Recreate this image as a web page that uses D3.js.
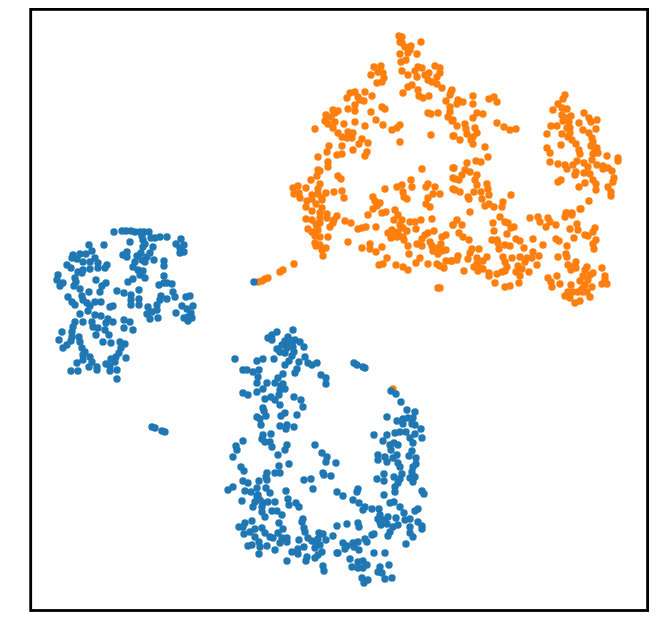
<!DOCTYPE html>
<html><head><meta charset="utf-8">
<script src="https://cdn.jsdelivr.net/npm/d3@7"></script>
<style>html,body{margin:0;padding:0;background:#fff}svg{display:block}</style>
</head><body><div id="chart"></div>
<script>
const blueUpperLeft=[[114,232],[122,231],[126,231],[131,231],[135,232],[140,232],[144,232],[149,232],[142,236],[143,240],[145,244],[143,247],[130,242],[104,245],[89,245],[153,247],[151,238],[155,238],[160,237],[167,237],[181,239],[184,245],[176,244],[180,248],[184,252],[180,253],[127,252],[123,255],[127,257],[137,256],[141,253],[150,253],[147,257],[142,260],[145,262],[135,262],[133,267],[154,260],[164,261],[164,266],[92,251],[86,254],[80,254],[73,255],[72,258],[77,259],[83,262],[90,262],[95,258],[98,263],[67,265],[71,268],[107,265],[105,268],[98,268],[90,269],[83,270],[78,272],[82,273],[75,278],[76,282],[58,275],[57,280],[63,283],[60,286],[138,270],[143,271],[140,275],[145,278],[164,276],[133,279],[128,282],[96,280],[106,283],[102,286],[100,292],[89,292],[74,286],[80,289],[117,291],[124,293],[131,295],[139,290],[164,283],[159,285],[167,283],[172,284],[173,292],[175,297],[161,296],[167,299],[160,300],[157,305],[186,297],[190,296],[68,297],[72,302],[75,305],[82,296],[83,300],[87,303],[90,306],[95,302],[101,302],[110,307],[113,306],[131,300],[131,305],[139,299],[139,305],[148,307],[152,312],[157,310],[147,314],[150,319],[158,318],[176,313],[182,306],[187,309],[193,306],[191,313],[188,317],[184,318],[188,321],[192,318],[88,311],[80,314],[95,315],[101,316],[75,322],[83,322],[73,327],[72,332],[92,322],[93,327],[98,328],[108,319],[106,323],[113,322],[105,330],[109,335],[96,335],[124,320],[130,322],[124,328],[133,330],[62,332],[72,337],[59,340],[79,337],[80,342],[71,341],[67,345],[63,348],[82,348],[85,352],[83,355],[103,342],[111,343],[120,342],[125,344],[121,348],[119,353],[116,357],[126,358],[111,359],[106,364],[110,366],[115,362],[90,357],[92,362],[83,360],[77,363],[89,367],[97,367],[97,370],[71,371],[78,371],[110,371],[117,370],[117,379]];
const blueStray=[[152,427],[155,428],[162,431],[165,432],[254,282],[354,363],[357,365],[363,367],[365,368]];
const blueLowerTop=[[293,330],[277,332],[272,335],[268,338],[272,340],[288,337],[285,341],[295,340],[300,342],[304,347],[288,345],[292,343],[287,348],[277,349],[280,352],[285,353],[294,352],[292,356],[305,357],[274,359],[235,359],[257,361],[263,359],[289,361],[285,365],[299,362],[308,363],[317,363],[312,365],[297,369],[295,373],[243,370],[247,370],[253,372],[259,370],[258,377],[257,383],[283,374],[278,378],[267,383],[275,383],[283,384],[285,389],[280,390],[321,375],[326,378],[326,384],[263,389],[257,392],[243,393],[248,395],[265,399],[271,397],[275,400],[279,395],[294,397],[301,400],[303,407],[280,405],[263,408],[264,411],[266,416],[257,417],[260,419],[261,425],[285,413],[281,416],[297,415],[280,426],[287,425],[286,429],[294,427],[263,435],[262,439],[265,442],[271,434],[270,442],[272,447],[243,441],[236,446],[237,450],[233,457],[287,445],[285,450],[278,455],[315,445],[322,453],[327,457],[290,340],[293,347],[282,345],[281,386]];
const blueLowerLeft=[[241,467],[244,471],[289,464],[279,466],[267,473],[275,473],[280,473],[266,477],[267,480],[259,481],[243,481],[248,483],[233,487],[228,490],[245,491],[251,492],[257,488],[266,488],[270,493],[286,491],[304,480],[311,479],[313,489],[337,492],[323,473],[324,475],[331,476],[326,462],[336,463],[257,496],[255,502],[242,501],[253,507],[263,503],[268,502],[275,502],[262,507],[262,512],[272,511],[277,511],[282,515],[265,517],[288,499],[289,505],[296,503],[299,507],[303,519],[302,522],[304,528],[305,532],[279,523],[283,529],[252,521],[245,523],[239,527],[243,527],[244,534],[250,532],[255,529],[262,528],[265,533],[270,537],[273,538],[255,537],[278,533],[282,538],[287,538],[280,543],[287,542],[259,542],[252,545],[248,546],[260,547],[267,546],[275,550],[259,554],[299,540],[308,538],[312,541],[319,533],[323,534],[337,526],[333,536],[326,540],[318,539],[320,545],[315,548],[304,547],[298,549],[292,552],[298,554],[322,552],[318,555],[315,558],[307,557],[306,561],[287,561],[337,553],[323,566],[324,571],[316,543],[258,495],[260,500]];
const blueLowerRight=[[391,391],[396,394],[401,402],[407,410],[415,412],[387,417],[397,421],[403,419],[408,418],[413,418],[403,424],[412,424],[415,425],[421,429],[415,434],[422,438],[374,435],[387,435],[395,433],[400,432],[406,432],[383,441],[410,438],[413,443],[390,445],[394,443],[398,445],[391,450],[412,451],[409,456],[397,455],[393,458],[416,458],[378,455],[378,460],[385,457],[387,462],[398,463],[400,467],[416,464],[413,467],[412,472],[402,474],[394,477],[384,474],[377,479],[384,481],[400,479],[415,477],[410,478],[413,482],[398,483],[395,487],[395,492],[358,489],[357,492],[343,496],[422,491],[424,494],[384,495],[353,500],[359,503],[365,507],[363,510],[372,509],[379,509],[390,503],[394,502],[400,507],[418,509],[415,511],[404,513],[380,515],[388,517],[378,519],[383,520],[396,518],[405,520],[410,519],[418,522],[381,525],[387,524],[393,527],[398,525],[410,527],[422,526],[422,529],[390,532],[347,524],[358,523],[359,527],[374,534],[372,535],[388,536],[410,533],[413,537],[406,544],[365,539],[367,542],[358,542],[353,543],[343,543],[347,546],[345,549],[359,550],[354,547],[338,553],[374,553],[385,553],[350,559],[352,567],[358,562],[363,561],[367,565],[358,568],[363,568],[389,565],[380,567],[378,572],[382,573],[385,579],[392,578],[362,578],[368,580],[364,583],[385,522],[380,522]];
const orangeTop=[[399,36],[402,37],[400,42],[402,43],[421,42],[411,46],[405,47],[410,50],[408,53],[400,54],[417,54],[406,60],[401,62],[381,66],[374,67],[378,72],[383,73],[371,75],[384,78],[382,82],[377,83],[402,71],[408,75],[418,67],[415,71],[422,68],[417,77],[425,75],[429,73],[428,80],[432,82],[435,66],[440,68],[440,73],[437,77],[437,84],[442,88],[412,85],[408,87],[403,93],[418,90],[419,96],[423,98],[429,96],[451,92],[450,95],[446,101],[450,107],[450,112],[448,117],[452,121],[365,92],[355,92],[350,93],[347,98],[372,96],[358,97],[360,100],[364,101],[355,105],[348,109],[355,111],[338,111],[333,110],[326,115],[335,113],[331,117],[325,121],[335,122],[328,124],[333,128],[371,112],[382,107],[385,109],[428,113],[431,114],[438,113],[344,124],[355,122],[376,120],[383,125],[365,126],[400,125],[397,128],[392,130],[315,129],[338,133],[342,137],[348,132],[353,133],[347,138],[352,138],[362,139],[359,144],[368,143],[400,142],[431,135],[453,136],[329,146],[327,152],[342,146],[353,150],[337,155],[342,154],[367,152],[365,156],[318,157],[328,162],[328,167],[318,170],[422,169]];
const orangeUpperMiddle=[[452,90],[473,96],[463,102],[458,100],[457,104],[473,104],[489,99],[494,97],[497,102],[483,114],[477,113],[473,118],[453,120],[457,126],[465,124],[475,128],[466,129],[467,134],[473,137],[477,133],[471,140],[473,144],[454,136],[460,140],[485,147],[497,123],[504,127],[510,130],[516,129],[488,157],[476,161],[481,162],[454,168],[467,163],[465,170],[470,172],[462,175],[455,179],[459,180],[477,175],[475,180],[477,185],[487,184],[488,189],[489,195],[455,190],[460,192],[474,192],[481,192],[468,197],[482,199],[511,195],[469,199],[485,206],[489,204],[494,207],[502,207],[503,202],[470,212]];
const orangeRight=[[565,95],[563,99],[558,104],[562,108],[553,110],[567,109],[584,113],[562,115],[571,116],[589,118],[597,120],[591,122],[563,121],[569,122],[579,123],[551,126],[557,126],[570,128],[567,128],[596,129],[583,130],[547,134],[562,134],[568,137],[589,133],[592,138],[572,140],[593,142],[576,144],[561,145],[547,148],[550,153],[579,150],[580,154],[597,148],[598,153],[593,154],[607,156],[618,158],[618,161],[592,160],[550,162],[558,164],[565,165],[567,169],[573,165],[577,161],[584,163],[588,167],[597,165],[603,166],[603,169],[608,168],[612,171],[576,172],[575,175],[584,173],[590,174],[593,180],[596,184],[614,178],[613,182],[561,180],[558,182],[585,183],[579,187],[596,190],[608,187],[611,192],[611,196],[589,201],[580,209],[567,213],[572,213],[591,146],[595,150],[566,118],[570,133]];
const orangeLeft=[[320,171],[317,176],[311,180],[338,176],[341,179],[298,186],[293,188],[306,188],[320,184],[294,194],[299,193],[300,198],[318,189],[326,193],[334,192],[342,191],[344,198],[312,195],[318,194],[322,198],[307,201],[312,199],[316,204],[306,207],[322,200],[312,211],[320,213],[327,214],[320,218],[327,218],[337,216],[334,220],[306,219],[312,220],[320,223],[333,223],[330,227],[317,227],[308,229],[312,232],[318,230],[315,236],[320,237],[328,237],[315,243],[316,246],[320,245],[326,248],[322,250],[323,256],[348,242],[345,221],[351,223],[358,229],[362,228],[366,227],[376,227],[258,282],[262,281],[265,279],[268,278],[280,272],[283,270],[294,264],[322,208],[316,224]];
const orangeMiddle=[[385,189],[397,187],[402,185],[411,180],[412,187],[403,192],[404,197],[407,199],[428,184],[426,187],[435,187],[433,194],[440,194],[428,198],[426,204],[430,207],[453,168],[453,178],[453,189],[373,197],[375,201],[380,203],[377,206],[373,209],[368,215],[382,213],[386,212],[395,210],[398,215],[394,220],[402,220],[400,225],[410,222],[415,222],[421,220],[432,219],[453,225],[403,228],[407,231],[416,229],[392,230],[388,233],[395,233],[391,238],[397,237],[403,237],[404,240],[434,231],[428,233],[425,235],[422,239],[446,235],[442,237],[430,242],[432,246],[441,244],[417,244],[422,246],[408,246],[433,251],[438,248],[442,251],[446,250],[438,254],[362,248],[370,244],[370,249],[376,252],[382,247],[409,254],[387,258],[383,264],[379,265],[396,265],[403,267],[408,270],[420,258],[416,263],[428,264],[446,261],[451,261],[437,264],[440,266],[444,268],[438,288],[440,288],[393,389],[393,234],[398,232]];
const orangeLower=[[457,220],[453,225],[462,225],[493,223],[500,217],[505,222],[508,223],[511,228],[514,227],[494,231],[507,234],[459,233],[463,237],[469,240],[530,218],[538,217],[540,222],[548,218],[550,222],[546,227],[556,225],[566,213],[572,215],[565,217],[581,209],[577,224],[578,230],[570,229],[595,228],[593,232],[588,236],[585,235],[596,240],[574,238],[593,244],[594,249],[533,239],[516,239],[520,241],[492,240],[497,240],[498,243],[505,245],[510,246],[499,249],[524,248],[543,245],[556,239],[559,241],[567,246],[566,254],[567,257],[558,257],[479,249],[472,249],[470,253],[458,256],[457,260],[452,261],[468,259],[477,258],[487,257],[483,261],[503,257],[512,258],[520,257],[505,262],[527,258],[533,252],[532,258],[539,256],[525,262],[537,265],[477,264],[474,267],[480,268],[483,269],[478,271],[464,271],[489,273],[489,276],[497,274],[502,272],[505,271],[507,267],[518,266],[522,269],[516,272],[520,276],[529,272],[495,283],[505,287],[510,286],[519,283],[548,278],[557,276],[551,282],[552,287],[560,284],[571,285],[568,265],[572,267],[576,262],[571,270],[576,268],[587,267],[585,270],[602,268],[583,276],[590,275],[593,273],[605,276],[605,280],[602,284],[607,284],[580,281],[588,280],[592,287],[585,285],[582,289],[568,292],[565,296],[573,292],[578,292],[583,292],[587,292],[590,297],[570,298],[575,303],[580,301]];

const classOne=[...orangeTop,...orangeUpperMiddle,...orangeRight,...orangeLeft,...orangeMiddle,...orangeLower];
const classZero=[...blueUpperLeft,...blueStray,...blueLowerTop,...blueLowerLeft,...blueLowerRight];

const W=656,H=640;
const x=d3.scaleLinear().domain([30.7,647.6]).range([30.7,647.6]);
const y=d3.scaleLinear().domain([9.4,610.5]).range([9.4,610.5]);
const svg=d3.select("#chart").append("svg").attr("width",W).attr("height",H);
[[classOne,"#ff7f0e"],[classZero,"#1f77b4"]].forEach(([pts,c])=>{
  svg.append("g").attr("fill",c).selectAll("circle").data(pts).join("circle")
    .attr("cx",d=>x(d[0])).attr("cy",d=>y(d[1])).attr("r",3.7);
});
svg.append("rect").attr("x",x(30.7)).attr("y",y(9.4)).attr("width",x(647.6)-x(30.7)).attr("height",y(610.5)-y(9.4))
  .attr("fill","none").attr("stroke","#000").attr("stroke-width",2.8);
</script></body></html>
